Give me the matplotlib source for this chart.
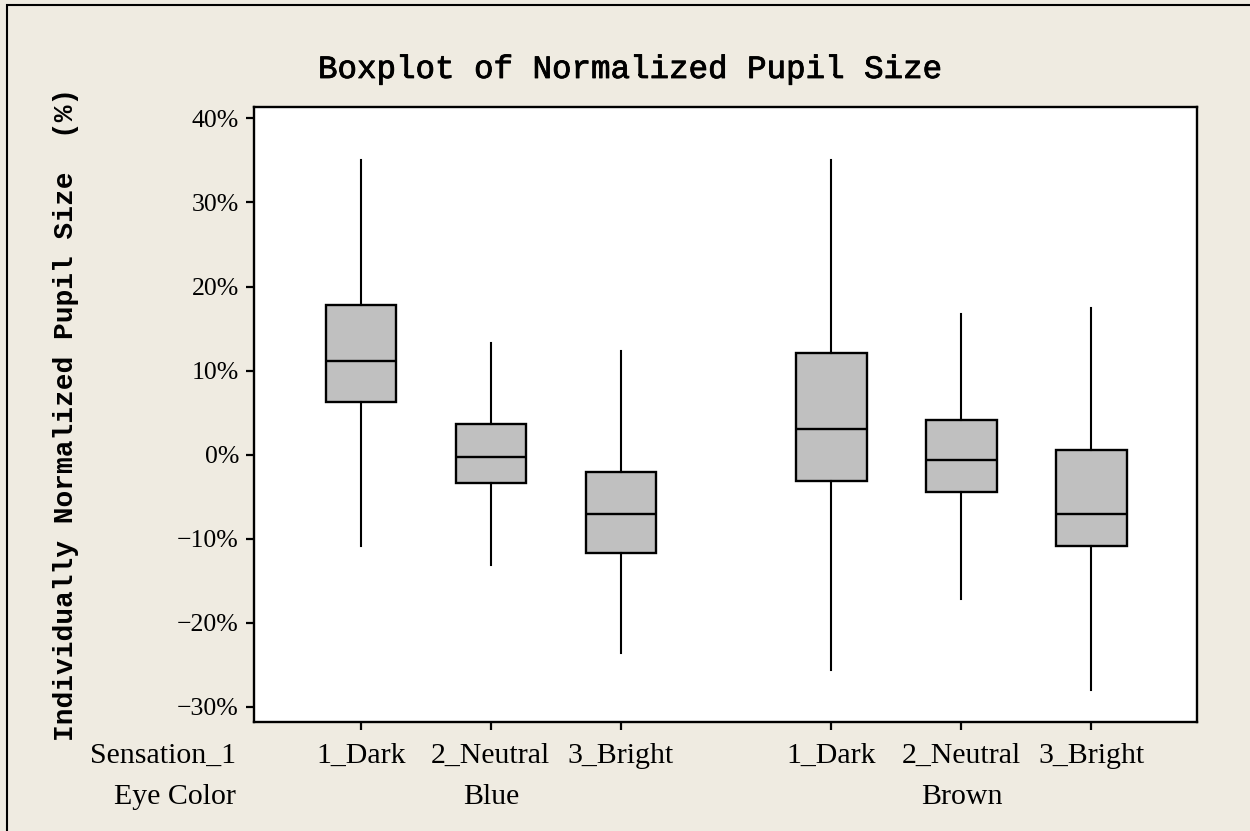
import matplotlib.pyplot as plt
from matplotlib.patches import Rectangle
import matplotlib.patheffects as pe

# categories
sensations = ['1_Dark', '2_Neutral', '3_Bright']
eye_colors = ['Blue', 'Brown']

# box statistics (% values)
blue_whislo = [-10.9, -13.2, -23.6]
blue_q1 = [6.2, -3.4, -11.7]
blue_med = [11.1, -0.3, -7.1]
blue_q3 = [17.8, 3.6, -2.1]
blue_whishi = [35.1, 13.3, 12.3]

brown_whislo = [-25.6, -17.2, -28.0]
brown_q1 = [-3.1, -4.4, -10.9]
brown_med = [3.0, -0.6, -7.1]
brown_q3 = [12.1, 4.1, 0.5]
brown_whishi = [35.1, 16.7, 17.5]

y_ticks = [-30, -20, -10, 0, 10, 20, 30, 40]

groups = [
    (blue_whislo, blue_q1, blue_med, blue_q3, blue_whishi),
    (brown_whislo, brown_q1, brown_med, brown_q3, brown_whishi),
]

group_step = 3.62
stats = []
positions = []
for g, (lo, q1, med, q3, hi) in enumerate(groups):
    for i in range(len(sensations)):
        stats.append(dict(whislo=lo[i], q1=q1[i], med=med[i], q3=q3[i], whishi=hi[i]))
        positions.append(g * group_step + i)

bg = '#efebe1'
serif = 'Liberation Serif'
mono = 'Liberation Mono'

fig = plt.figure(figsize=(12.5, 8.31), dpi=100, facecolor=bg)
ax = fig.add_axes([0.2034, 0.1315, 0.754, 0.7401])
ax.set_facecolor('white')

ax.bxp(stats, positions=positions, widths=0.54, patch_artist=True,
       showfliers=False, showcaps=False,
       boxprops=dict(facecolor='#c0c0c0', edgecolor='black', linewidth=1.7),
       medianprops=dict(color='black', linewidth=1.7),
       whiskerprops=dict(color='black', linewidth=1.5))

ax.set_xlim(-0.82, 6.43)
ax.set_ylim(-31.8, 41.4)

ax.set_yticks(y_ticks)
ax.set_yticklabels([(f'{v}%').replace('-', '\u2212') for v in y_ticks],
                   fontfamily=serif, fontsize=18.5)
ax.set_xticks(positions)
ax.set_xticklabels(sensations * len(eye_colors), fontfamily=serif, fontsize=21.5)

for s in ax.spines.values():
    s.set_linewidth(1.7)
ax.tick_params(direction='out', length=6, width=1.6, colors='black')
ax.tick_params(axis='x', pad=9)
ax.tick_params(axis='y', pad=5)

# second row of x labels
for g, name in enumerate(eye_colors):
    center = g * group_step + (len(sensations) - 1) / 2
    ax.text(center, -0.123, name, transform=ax.get_xaxis_transform(),
            ha='center', va='center', fontfamily=serif, fontsize=21.5)

fig.text(236 / 1250, 1 - 756 / 831, 'Sensation_1', ha='right', va='center',
         fontfamily=serif, fontsize=21.5)
fig.text(236 / 1250, 1 - 797 / 831, 'Eye Color', ha='right', va='center',
         fontfamily=serif, fontsize=21.5)

ylab = ax.set_ylabel('Individually Normalized Pupil Size  (%)', fontfamily=mono,
                     fontsize=20.1, fontweight='bold', va='center')
ax.yaxis.set_label_coords(-0.1998, 0.5)

title = fig.text(0.504, 1 - 70 / 831, 'Boxplot of Normalized Pupil Size',
                 ha='center', va='center', fontfamily=mono, fontsize=23.4)
title.set_path_effects([pe.withStroke(linewidth=0.6, foreground='black')])

fig.patches.append(Rectangle((7 / 1250, -0.1), 1.2, 1.1 - 5 / 831,
                             transform=fig.transFigure, fill=False,
                             edgecolor='black', linewidth=1.5))

fig.savefig('out.png', dpi=100, facecolor=bg)
